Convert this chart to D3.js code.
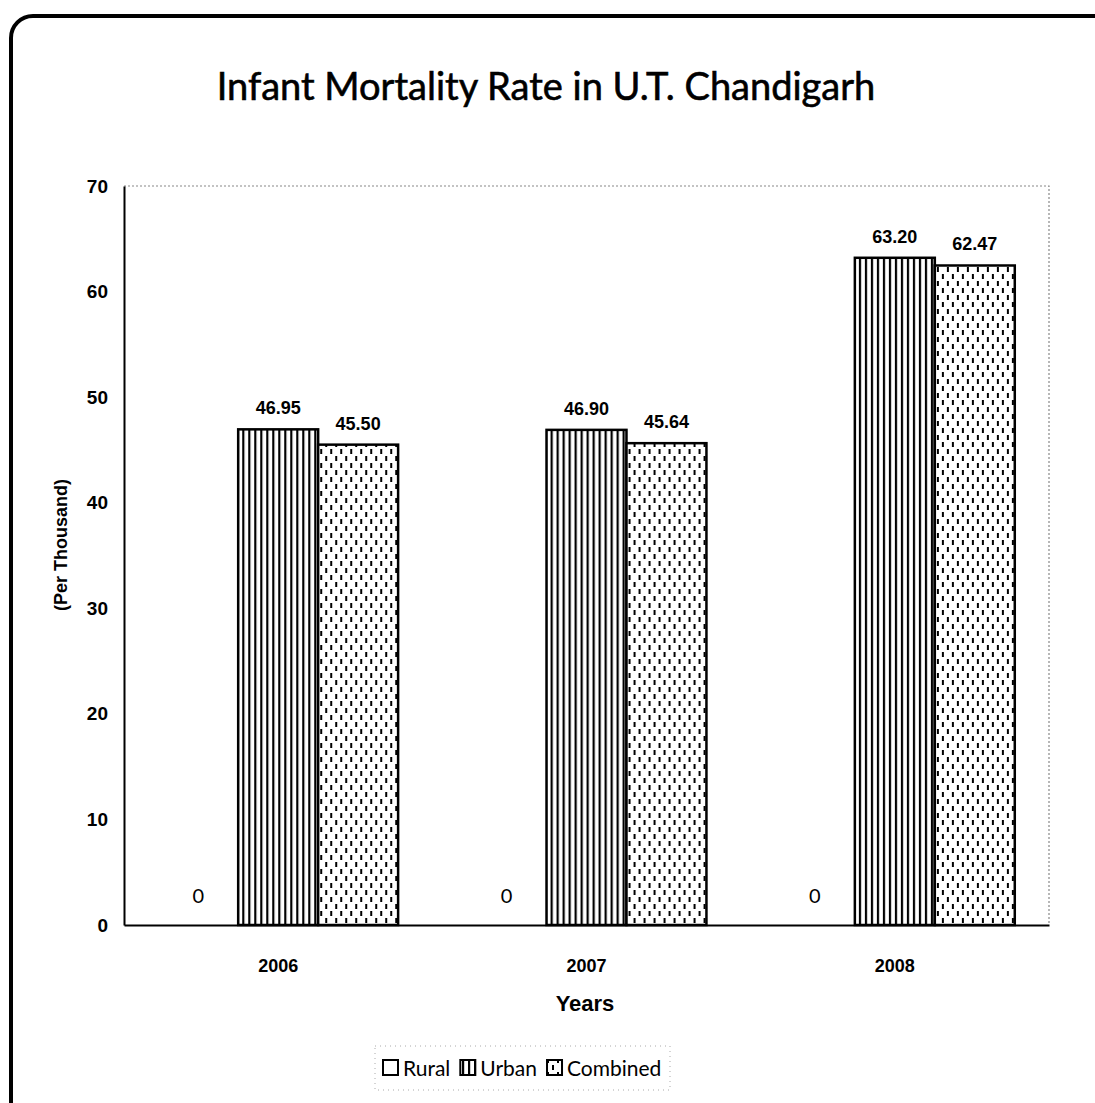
<!DOCTYPE html>
<html>
<head>
<meta charset="utf-8">
<script src="https://cdn.jsdelivr.net/npm/d3@7"></script>
<style>
  body { margin: 0; background: #fff; }
  svg { display: block; }
</style>
</head>
<body>
<svg id="chart" width="1095" height="1103"></svg>
<script>
// data
const years = ["2006", "2007", "2008"];
const seriesNames = ["Rural", "Urban", "Combined"];
const rural = [0, 0, 0];
const urban = [46.95, 46.90, 63.20];
const combined = [45.50, 45.64, 62.47];
const yTicks = [0, 10, 20, 30, 40, 50, 60, 70];

const svg = d3.select("#chart");

// outer rounded frame
svg.append("rect")
  .attr("x", 11).attr("y", 16)
  .attr("width", 1120).attr("height", 1120)
  .attr("rx", 22)
  .attr("fill", "none")
  .attr("stroke", "#000")
  .attr("stroke-width", 4);

// patterns
let defs = svg.append("defs");

let urbanPat = defs.append("pattern")
  .attr("id", "urbanPat")
  .attr("width", 6).attr("height", 10)
  .attr("patternUnits", "userSpaceOnUse");
urbanPat.append("rect").attr("width", 6).attr("height", 10).attr("fill", "#fff");
urbanPat.append("rect").attr("x", 0).attr("width", 2.2).attr("height", 10).attr("fill", "#000");

let combPat = defs.append("pattern")
  .attr("id", "combPat")
  .attr("width", 10).attr("height", 14)
  .attr("patternUnits", "userSpaceOnUse");
combPat.append("rect").attr("width", 10).attr("height", 14).attr("fill", "#fff");
combPat.append("rect").attr("x", 2).attr("y", 1).attr("width", 2).attr("height", 5).attr("fill", "#000");
combPat.append("rect").attr("x", 7).attr("y", 8).attr("width", 2).attr("height", 5).attr("fill", "#000");

const margin = { left: 124, top: 186, right: 1049, bottom: 925 };

const x = d3.scaleBand()
  .domain(years)
  .range([margin.left, margin.right])
  .paddingInner(0.222)
  .paddingOuter(0.111);

const xs = d3.scaleBand()
  .domain(seriesNames)
  .range([0, x.bandwidth()]);

const y = d3.scaleLinear()
  .domain([0, 70])
  .range([margin.bottom, margin.top]);

// title
svg.append("text")
  .attr("x", 546).attr("y", 100)
  .attr("text-anchor", "middle")
  .attr("font-family", "Lato, sans-serif")
  .attr("font-size", 38)
  .attr("stroke", "#000")
  .attr("stroke-width", 0.6)
  .attr("fill", "#000")
  .text("Infant Mortality Rate in U.T. Chandigarh");

// plot area border (dotted top and right)
svg.append("path")
  .attr("d", `M ${margin.left} ${margin.top} L ${margin.right} ${margin.top} L ${margin.right} ${margin.bottom}`)
  .attr("fill", "none")
  .attr("stroke", "#888")
  .attr("stroke-width", 1.2)
  .attr("stroke-dasharray", "2,2");

// bars
const tableRows = years.map((yr, i) => ({
  year: yr,
  values: [
    { name: "Rural", v: rural[i] },
    { name: "Urban", v: urban[i] },
    { name: "Combined", v: combined[i] },
  ],
}));

const fills = { Rural: "#fff", Urban: "url(#urbanPat)", Combined: "url(#combPat)" };

let groups = svg.selectAll(".grp")
  .data(tableRows)
  .enter().append("g")
  .attr("class", "grp")
  .attr("transform", d => `translate(${x(d.year)},0)`);

groups.selectAll("rect")
  .data(d => d.values.filter(v => v.v > 0))
  .enter().append("rect")
  .attr("x", d => xs(d.name))
  .attr("y", d => y(d.v))
  .attr("width", xs.bandwidth())
  .attr("height", d => y(0) - y(d.v))
  .attr("fill", d => fills[d.name])
  .attr("stroke", "#000")
  .attr("stroke-width", 2.5);

groups.selectAll(".lbl")
  .data(d => d.values)
  .enter().append("text")
  .attr("class", "lbl")
  .attr("x", d => xs(d.name) + xs.bandwidth() / 2)
  .attr("y", d => d.v > 0 ? y(d.v) - 15 : y(0) - 22)
  .attr("text-anchor", "middle")
  .attr("font-family", d => d.v > 0 ? "Liberation Sans, Arial, sans-serif" : "Lato, sans-serif")
  .attr("font-weight", d => d.v > 0 ? "bold" : "normal")
  .attr("font-size", d => d.v > 0 ? 18 : 20)
  .text(d => d.v > 0 ? d.v.toFixed(2) : "0");

// axes
let yAxis = svg.append("g")
  .attr("transform", `translate(${margin.left},0)`)
  .call(d3.axisLeft(y).tickValues(yTicks).tickSize(0).tickPadding(16));
yAxis.select(".domain").attr("stroke", "#000").attr("stroke-width", 2);
yAxis.selectAll("text")
  .attr("font-family", "Liberation Sans, Arial, sans-serif")
  .attr("font-weight", "bold")
  .attr("font-size", 19)
  .attr("fill", "#000");

let xAxis = svg.append("g")
  .attr("transform", `translate(0,${margin.bottom})`)
  .call(d3.axisBottom(x).tickSize(0).tickPadding(34));
xAxis.select(".domain").attr("stroke", "#000").attr("stroke-width", 2);
xAxis.selectAll("text")
  .attr("font-family", "Liberation Sans, Arial, sans-serif")
  .attr("font-weight", "bold")
  .attr("font-size", 18)
  .attr("fill", "#000");

// axis titles
svg.append("text")
  .attr("transform", "translate(67,545) rotate(-90)")
  .attr("text-anchor", "middle")
  .attr("font-family", "Liberation Sans, Arial, sans-serif")
  .attr("font-weight", "bold")
  .attr("font-size", 18)
  .text("(Per Thousand)");

svg.append("text")
  .attr("x", 585).attr("y", 1011)
  .attr("text-anchor", "middle")
  .attr("font-family", "Liberation Sans, Arial, sans-serif")
  .attr("font-weight", "bold")
  .attr("font-size", 22)
  .text("Years");

// legend
let legend = svg.append("g");
legend.append("rect")
  .attr("x", 375).attr("y", 1046)
  .attr("width", 295).attr("height", 44)
  .attr("fill", "none")
  .attr("stroke", "#aaa")
  .attr("stroke-width", 1)
  .attr("stroke-dasharray", "1,4");

let lx = 383;
seriesNames.forEach(function (name) {
  legend.append("rect")
    .attr("x", lx).attr("y", 1060)
    .attr("width", 15).attr("height", 15)
    .attr("fill", fills[name])
    .attr("stroke", "#000")
    .attr("stroke-width", 2);
  let t = legend.append("text")
    .attr("x", lx + 20).attr("y", 1076)
    .attr("font-family", "Lato, sans-serif")
    .attr("font-size", 21)
    .text(name);
  lx += 20 + t.node().getComputedTextLength() + 10;
});
</script>
</body>
</html>
